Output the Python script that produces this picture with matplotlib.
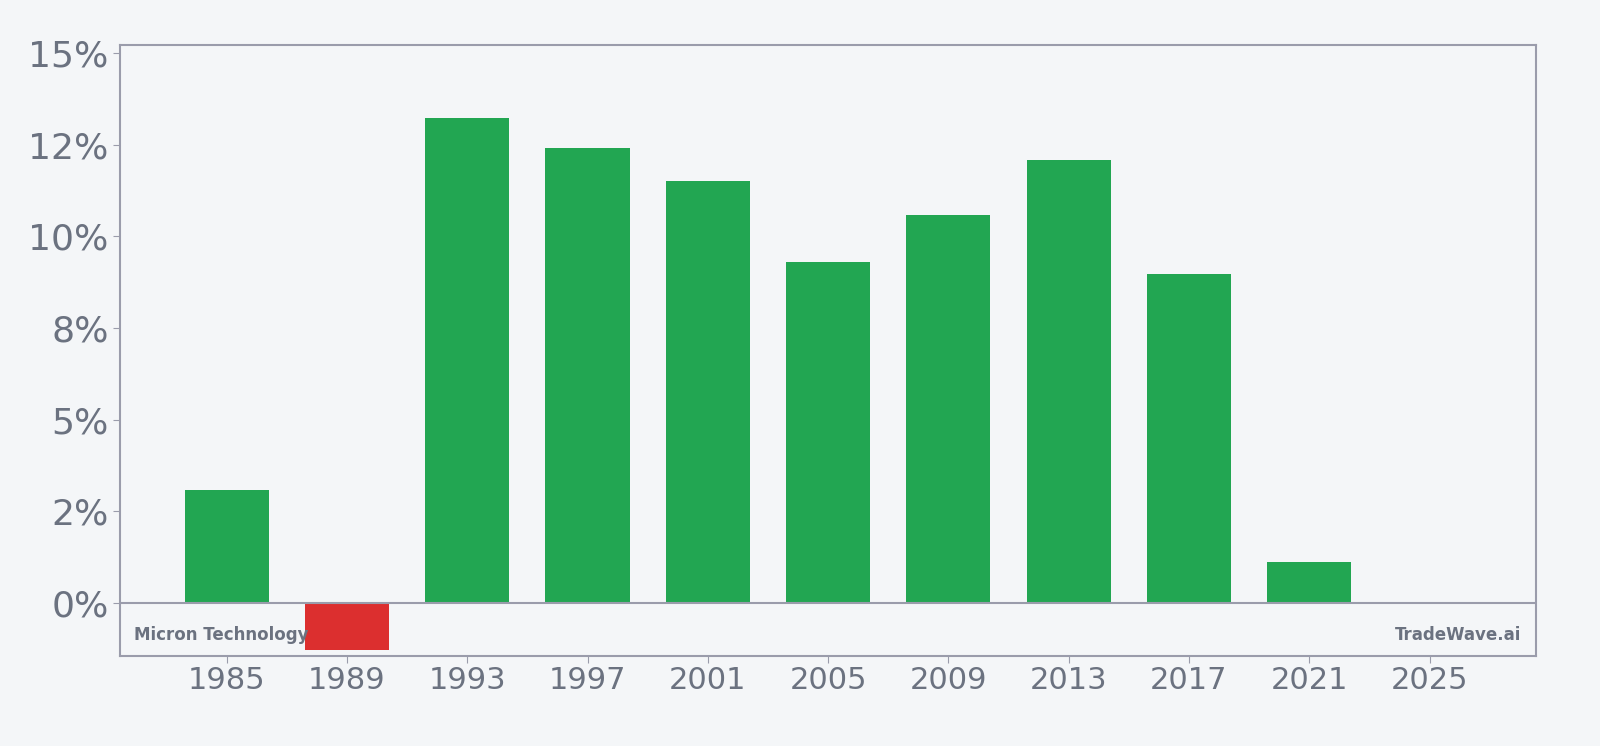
import matplotlib.pyplot as plt
from matplotlib.ticker import FuncFormatter

# البيانات
years = [1985, 1989, 1993, 1997, 2001, 2005, 2009, 2013, 2017, 2021]
values = [3.09, -1.28, 13.22, 12.41, 11.52, 9.30, 10.58, 12.08, 8.96, 1.11]
xticks = [1985, 1989, 1993, 1997, 2001, 2005, 2009, 2013, 2017, 2021, 2025]
yticks = [0, 2.5, 5, 7.5, 10, 12.5, 15]

bg = '#f4f6f8'
text_color = '#6b7280'
line_color = '#9a9cab'
colors = ['#22a652' if v >= 0 else '#dc2f2f' for v in values]

fig = plt.figure(figsize=(16, 7.46), dpi=100, facecolor=bg)
ax = fig.add_axes([0.0753, 0.1206, 0.8845, 0.8192])
ax.set_facecolor(bg)

ax.bar(years, values, width=2.8, color=colors, zorder=2)
ax.axhline(0, color=line_color, linewidth=1.5, zorder=3)

ax.set_xlim(1981.47, 2028.53)
ax.set_ylim(-1.45, 15.22)
ax.set_xticks(xticks)
ax.set_yticks(yticks)
ax.yaxis.set_major_formatter(FuncFormatter(lambda v, p: '{:.0f}%'.format(v)))

ax.tick_params(axis='x', labelsize=22, colors=line_color, labelcolor=text_color, length=5, pad=2)
ax.tick_params(axis='y', labelsize=26, colors=line_color, labelcolor=text_color, length=5)
for s in ax.spines.values():
    s.set_color(line_color)
    s.set_linewidth(1.5)

ax.text(0.0094, 0.034, 'Micron Technology', transform=ax.transAxes, fontsize=12,
        fontweight='bold', color=text_color, ha='left', va='center')
ax.text(0.990, 0.034, 'TradeWave.ai', transform=ax.transAxes, fontsize=12,
        fontweight='bold', color=text_color, ha='right', va='center')

fig.savefig('out.png', dpi=100, facecolor=bg)
